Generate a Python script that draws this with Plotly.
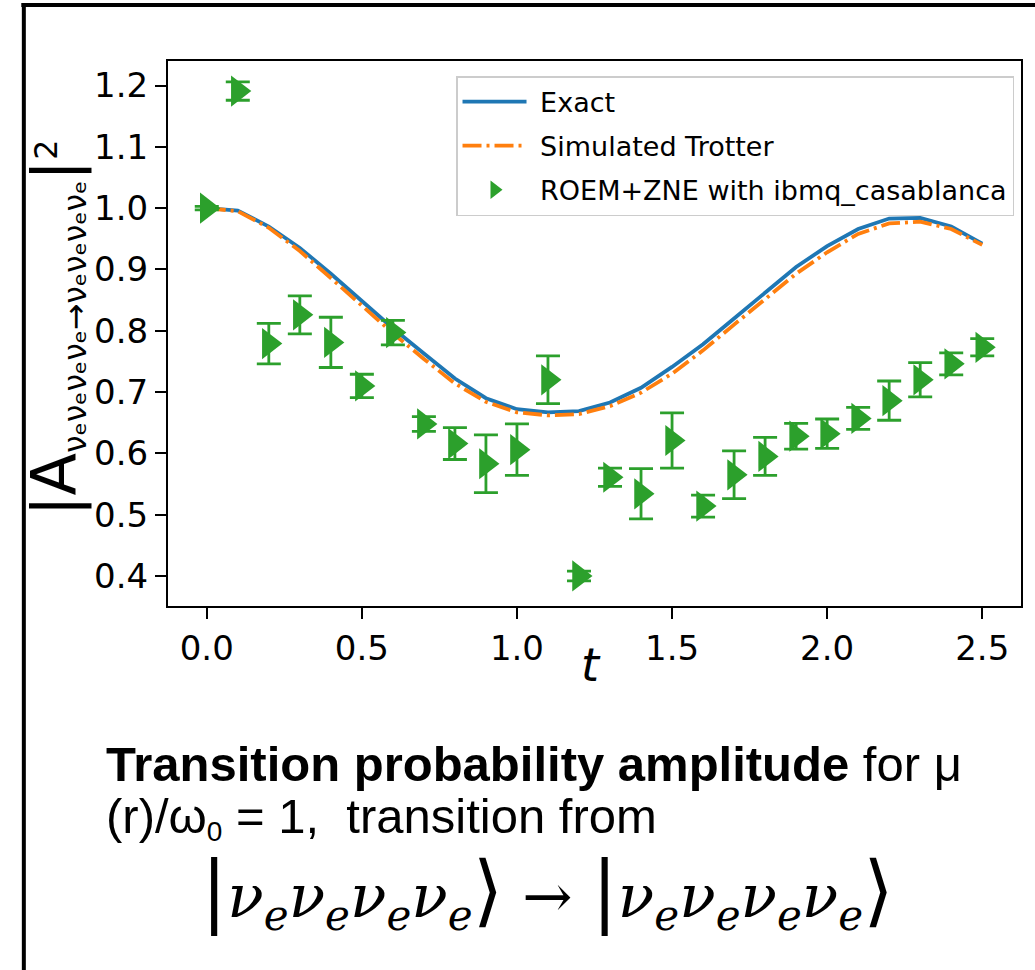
import plotly.graph_objects as go

# time grid (Trotter steps)
t = [0.0, 0.1, 0.2, 0.3, 0.4, 0.5, 0.6, 0.7, 0.8, 0.9, 1.0, 1.1, 1.2,
     1.3, 1.4, 1.5, 1.6, 1.7, 1.8, 1.9, 2.0, 2.1, 2.2, 2.3, 2.4, 2.5]

exact = [1.000, 0.996, 0.970, 0.935, 0.893, 0.848, 0.804, 0.763, 0.722,
         0.690, 0.672, 0.667, 0.669, 0.683, 0.707, 0.741, 0.778, 0.820,
         0.862, 0.904, 0.938, 0.966, 0.983, 0.984, 0.970, 0.942]

trotter = [1.000, 0.995, 0.968, 0.930, 0.886, 0.840, 0.796, 0.754, 0.714,
           0.684, 0.667, 0.662, 0.664, 0.677, 0.699, 0.730, 0.768, 0.810,
           0.851, 0.893, 0.928, 0.958, 0.975, 0.978, 0.966, 0.940]

hw_val = [1.000, 1.191, 0.779, 0.826, 0.781, 0.710, 0.797, 0.648, 0.616,
          0.583, 0.606, 0.720, 0.400, 0.561, 0.534, 0.621, 0.514, 0.565,
          0.595, 0.628, 0.632, 0.657, 0.686, 0.720, 0.746, 0.773]

hw_err = [0.003, 0.015, 0.033, 0.031, 0.041, 0.019, 0.020, 0.012, 0.026,
          0.047, 0.042, 0.039, 0.008, 0.015, 0.041, 0.045, 0.018, 0.039,
          0.031, 0.021, 0.024, 0.018, 0.032, 0.028, 0.018, 0.014]

x_ticks = [0.0, 0.5, 1.0, 1.5, 2.0, 2.5]
x_ticklabels = ["0.0", "0.5", "1.0", "1.5", "2.0", "2.5"]
y_ticks = [0.4, 0.5, 0.6, 0.7, 0.8, 0.9, 1.0, 1.1, 1.2]
y_ticklabels = ["0.4", "0.5", "0.6", "0.7", "0.8", "0.9", "1.0", "1.1", "1.2"]

W, H = 1035, 970
L, R, T, B = 168, 12, 61, 364
PW, PH = W - L - R, H - T - B


def px(xp):
    return (xp - L) / PW


def py(yp):
    return (H - B - yp) / PH


BLUE = "#1f77b4"
ORANGE = "#ff7f0e"
GREEN = "#2ca02c"
TICKFONT = dict(family="DejaVu Sans", size=34, color="black")
GAP = "&nbsp;"

fig = go.Figure()
fig.add_trace(go.Scatter(
    x=t, y=exact, mode="lines", name=GAP + "Exact",
    line=dict(color=BLUE, width=3.8), legendgroup="a"))
fig.add_trace(go.Scatter(
    x=t, y=trotter, mode="lines", name=GAP + "Simulated Trotter",
    line=dict(color=ORANGE, width=3.8, dash="19px,5px,3px,5px"),
    legendgroup="b"))
fig.add_trace(go.Scatter(
    x=t, y=hw_val, mode="markers", name=GAP + "ROEM+ZNE with ibmq_casablanca",
    marker=dict(symbol="triangle-right", size=27, color=GREEN),
    error_y=dict(type="data", array=hw_err, visible=True, color=GREEN,
                 thickness=2.8, width=12),
    legendgroup="c"))

axis_common = dict(
    showline=True, linecolor="black", linewidth=2, mirror=True,
    ticks="outside", ticklen=11, tickwidth=2, tickcolor="black",
    showgrid=False, zeroline=False, tickfont=TICKFONT,
)
fig.update_xaxes(range=[-0.125, 2.625], tickvals=x_ticks,
                 ticktext=x_ticklabels, **axis_common)
fig.update_yaxes(range=[0.351, 1.240], tickvals=y_ticks,
                 ticktext=y_ticklabels, **axis_common)

# caption: two lines in one text block, glyphs larger than the line pitch
CAP = 'font-size:49px'
caption = (f'<span style="{CAP}"><b>Transition probability amplitude</b>'
           f' for μ</span><br>'
           f'<span style="{CAP}">(r)/ω</span><sub>0</sub>'
           f'<span style="{CAP}"> = 1, &nbsp;transition from</span>')

annotations = [
    # y-axis label
    dict(text='<span style="font-size:62px">|A</span>'
              '<sub>νₑνₑνₑνₑ→νₑνₑνₑνₑ</sub>'
              '<span style="font-size:62px">|</span><sup>2</sup>',
         x=px(55), y=py(328), textangle=-90,
         font=dict(family="DejaVu Sans", size=45, color="black")),
    # x-axis label
    dict(text="<i>t</i>", x=px(592), y=py(665),
         font=dict(family="DejaVu Sans", size=46, color="black")),
    # caption
    dict(text=caption, x=px(104), y=py(792), xanchor="left", align="left",
         font=dict(family="Liberation Sans", size=40, color="black")),
    dict(text='<span style="font-size:78px">|</span>'
              '<i>ν<sub>e</sub>ν<sub>e</sub>ν<sub>e</sub>ν<sub>e</sub></i>'
              '<span style="font-size:78px">⟩</span> → '
              '<span style="font-size:78px">|</span>'
              '<i>ν<sub>e</sub>ν<sub>e</sub>ν<sub>e</sub>ν<sub>e</sub></i>'
              '<span style="font-size:78px">⟩</span>',
         x=px(548), y=py(892),
         font=dict(family="DejaVu Serif", size=60, color="black")),
]
for a in annotations:
    a.setdefault("xref", "paper")
    a.setdefault("yref", "paper")
    a.setdefault("showarrow", False)
    a.setdefault("xanchor", "center")
    a.setdefault("yanchor", "middle")
fig.update_layout(annotations=annotations)

# outer frame (top and left edges)
fig.add_shape(type="line", xref="paper", yref="paper",
              x0=px(21), x1=px(1040), y0=py(5), y1=py(5),
              line=dict(color="black", width=4))
fig.add_shape(type="line", xref="paper", yref="paper",
              x0=px(23.5), x1=px(23.5), y0=py(3), y1=py(975),
              line=dict(color="black", width=4))

fig.update_layout(
    width=W, height=H,
    margin=dict(l=L, r=R, t=T, b=B, pad=0),
    paper_bgcolor="white", plot_bgcolor="white",
    showlegend=True,
    legend=dict(
        x=px(1016), y=py(76), xanchor="right", yanchor="top",
        bgcolor="rgba(255,255,255,0.8)", bordercolor="#cccccc",
        borderwidth=1.5, font=dict(family="DejaVu Sans", size=27,
                                   color="black"),
        tracegroupgap=6, traceorder="grouped", itemwidth=64,
    ),
)

fig.write_html("out.html")
